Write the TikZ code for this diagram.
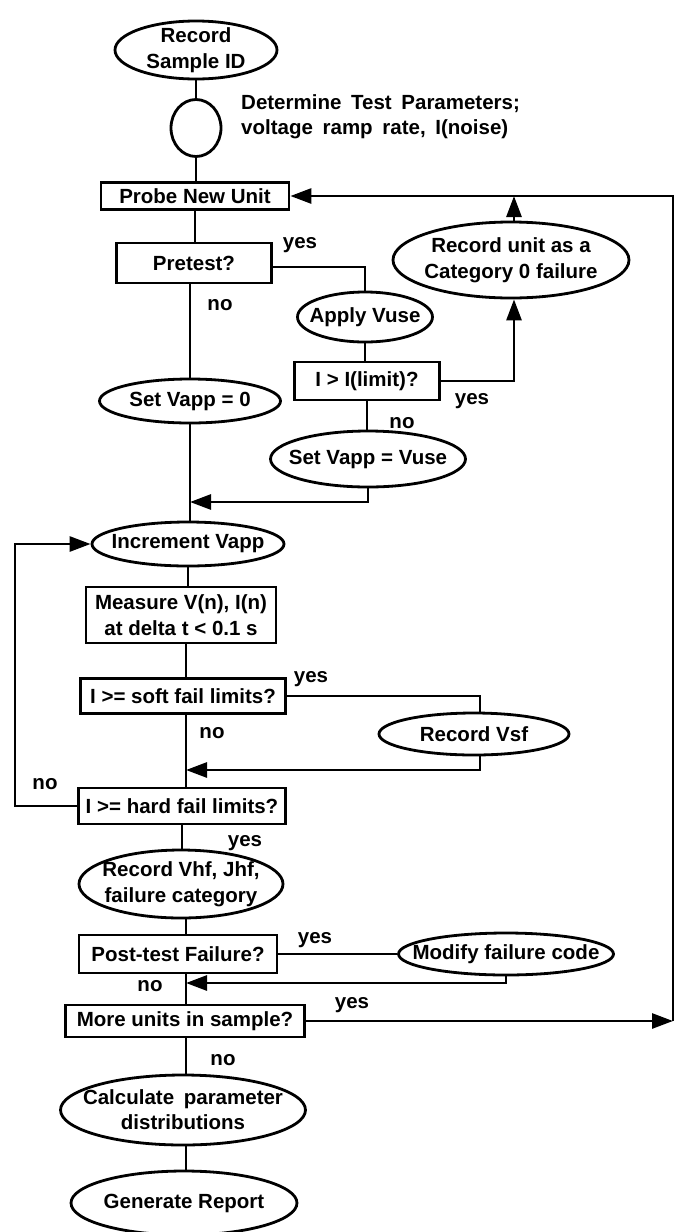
\documentclass[tikz,border=0pt]{standalone}
\usepackage{fontspec}
\setmainfont{Liberation Sans}
\newfontfamily\widesp[WordSpace=1.7]{Liberation Sans}
\usetikzlibrary{shapes.geometric,arrows.meta}
\begin{document}
\begin{tikzpicture}[x=1pt,y=-1pt,
  every node/.style={font=\fontsize{20.5}{26}\selectfont\bfseries, inner sep=0pt},
  box/.style={draw, line width=2.8pt, rectangle, align=center},
  oval/.style={draw, line width=2.8pt, ellipse},
  conn/.style={line width=2.8pt},
  arr/.style={conn, -{Triangle[length=21pt,width=15pt]}},
  txt/.style={align=center},
  wide/.style={font=\fontsize{20.5}{25}\selectfont\widesp\bfseries}
]
\useasboundingbox (0,0) rectangle (679,1232);

% main column
\node[oval, minimum width=162pt, minimum height=58pt, label={[txt]center:Record\\Sample ID}] (rsid) at (196,50) {};
\node[oval, minimum width=50pt, minimum height=57pt] (circ) at (196,128) {};
\node[anchor=west, align=left, wide] (det) at (241,117) {Determine Test Parameters;\\voltage ramp rate, I(noise)};
\node[box, minimum width=188pt, minimum height=27pt] (probe) at (195,196) {Probe New Unit};
\node[box, minimum width=155pt, minimum height=40pt] (pretest) at (194,263) {Pretest?};
\node[oval, minimum width=236pt, minimum height=76pt, label={[txt]center:Record unit as a\\Category 0 failure}] (rec0) at (511,260) {};
\node[oval, minimum width=135pt, minimum height=50pt, label={[txt]center:Apply Vuse}] (apply) at (365,317) {};
\node[box, minimum width=145pt, minimum height=38pt] (ilimit) at (367,381) {I > I(limit)?};
\node[oval, minimum width=181pt, minimum height=44pt, label={[txt]center:Set Vapp = 0}] (set0) at (190,401) {};
\node[oval, minimum width=195pt, minimum height=56pt, label={[txt]center:Set Vapp = Vuse}] (setvuse) at (368,459) {};
\node[oval, minimum width=192pt, minimum height=44pt, label={[txt]center:Increment Vapp}] (incr) at (188,544) {};
\node[box, minimum width=190pt, minimum height=56pt] (measure) at (181,615) {Measure V(n), I(n)\\at delta t < 0.1 s};
\node[box, minimum width=205pt, minimum height=35pt] (soft) at (183,696) {I >= soft fail limits?};
\node[oval, minimum width=190pt, minimum height=42pt, label={[txt]center:Record Vsf}] (vsf) at (474,734) {};
\node[box, minimum width=207pt, minimum height=36pt] (hard) at (182,806) {I >= hard fail limits?};
\node[oval, minimum width=204pt, minimum height=68pt, label={[txt]center:Record Vhf, Jhf,\\failure category}] (vhf) at (181,884) {};
\node[box, minimum width=198pt, minimum height=38pt] (post) at (178,954) {Post-test Failure?};
\node[oval, minimum width=215pt, minimum height=42pt, label={[txt]center:Modify failure code}] (modify) at (506,954) {};
\node[box, minimum width=239pt, minimum height=32pt] (more) at (185,1021) {More units in sample?};
\node[oval, minimum width=245pt, minimum height=70pt, label={[txt,wide]center:Calculate parameter\\distributions}] (calc) at (183,1110) {};
\node[oval, minimum width=226pt, minimum height=64pt, label={[txt]center:Generate Report}] (gen) at (184,1203) {};

% helper coordinates
\coordinate (rt) at (673,196);
\coordinate (rb) at (673,1021);
\coordinate (m1) at (set0.south |- 0,502);
\coordinate (m2) at (186,770);
\coordinate (m3) at (186,983);
\coordinate (lb) at (hard.west -| 15,0);
\coordinate (xr) at (514,0);
\coordinate (xs) at (480,0);

% connectors, main column
\draw[conn] (rsid.south) -- (rsid.south |- circ.north);
\draw[conn] (circ.south) -- (circ.south |- probe.north);
\draw[conn] (probe.south) -- (probe.south |- pretest.north);
\draw[conn] (set0.south |- pretest.south) -- (set0.north);
\draw[conn] (set0.south) -- (set0.south |- incr.north);
\draw[conn] (measure.north -| incr.south) -- (incr.south);
\draw[conn] (measure.south -| m2) -- (m2 |- soft.north);
\draw[conn] (soft.south -| m2) -- (m2 |- hard.north);
\draw[conn] (hard.south) -- (hard.south |- vhf.north);
\draw[conn] (vhf.south -| m3) -- (m3 |- post.north);
\draw[conn] (post.south -| m3) -- (m3 |- more.north);
\draw[conn] (more.south -| m3) -- (m3 |- calc.north);
\draw[conn] (calc.south -| m3) -- (m3 |- gen.north);

% pretest branch
\draw[conn] ([yshift=-4pt]pretest.east) -| (apply.north);
\draw[conn] (apply.south) -- (apply.south |- ilimit.north);
\draw[arr] (ilimit.east) -| (xr |- rec0.south);
\draw[arr] (xr |- rec0.north) -- (xr |- rt);
\draw[conn] (ilimit.south) -- (ilimit.south |- setvuse.north);
\draw[arr] (setvuse.south) |- (m1);

% soft fail branch
\draw[conn] (soft.east) -| (xs |- vsf.north);
\draw[arr] (xs |- vsf.south) |- (m2);

% hard fail loop
\draw[arr] (hard.west) -- (lb) |- (incr.west);

% post-test branch
\draw[conn] (post.east) -- (modify.west);
\draw[arr] (modify.south) |- (m3);

% more units loop
\draw[arr] (more.east) -- (rb);
\draw[arr] (rb) -- (rt) -- (probe.east);

% labels
\node (y1) at (300,245) {yes};
\node (n1) at (220,305) {no};
\node (y2) at (472,401) {yes};
\node (n2) at (402,423) {no};
\node (y3) at (311,679) {yes};
\node (n3) at (212,733) {no};
\node (n4) at (45,784) {no};
\node (y4) at (245,843) {yes};
\node (y5) at (315,940) {yes};
\node (n5) at (150,986) {no};
\node (y6) at (352,1005) {yes};
\node (n6) at (223,1060) {no};
\end{tikzpicture}
\end{document}
